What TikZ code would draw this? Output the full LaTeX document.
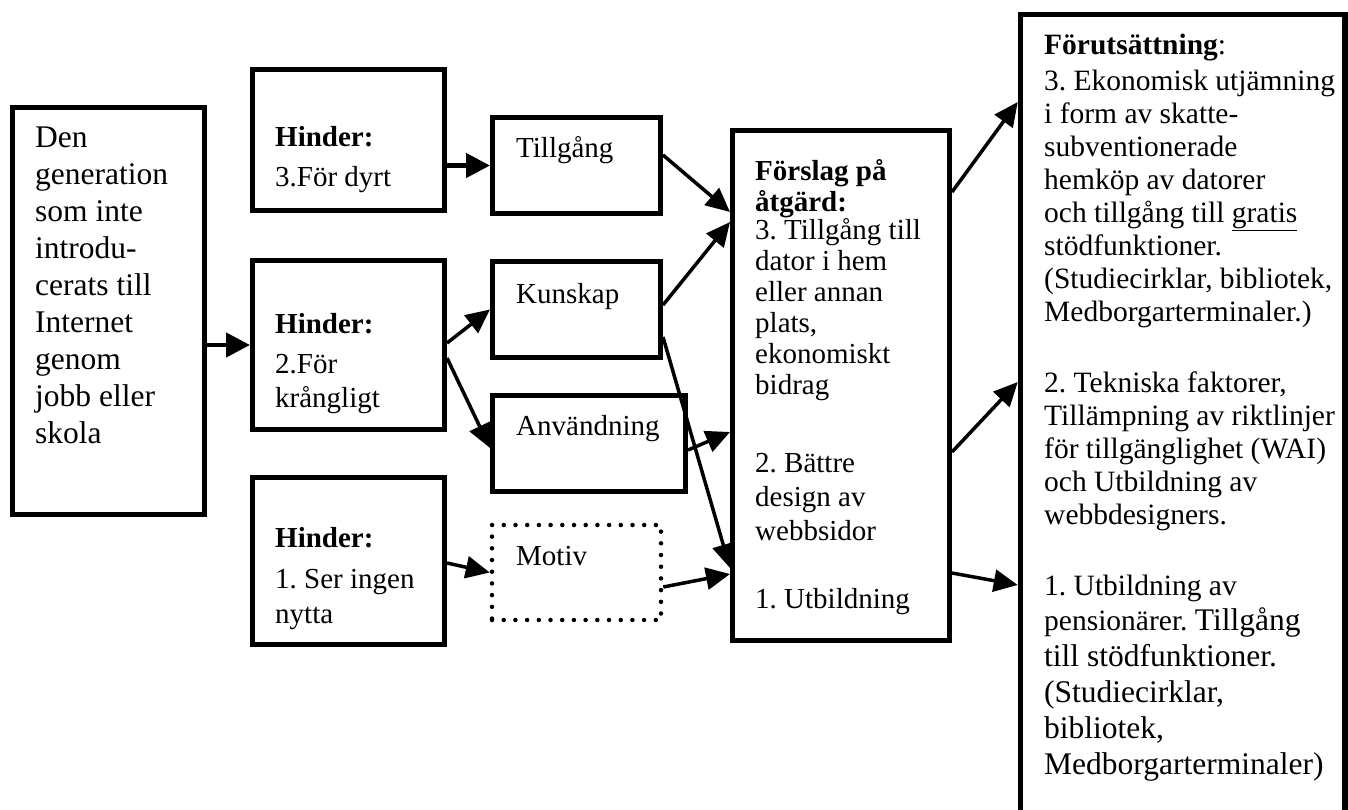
\documentclass[tikz,border=0pt]{standalone}
\usepackage{fontspec}
\setmainfont{Liberation Serif}
\usetikzlibrary{arrows.meta,calc}
\newcommand{\mytab}[1]{\begin{tabular}[t]{@{}l@{}}#1\end{tabular}}
\newcommand{\bigf}{\fontsize{31.5}{33}\selectfont}
\frenchspacing
\begin{document}
\begin{tikzpicture}[x=1pt,y=-1pt,
  box/.style={draw, line width=5pt, inner sep=0pt, rectangle},
  dotbox/.style={draw, line width=4.5pt, dash pattern=on 0pt off 11.7pt, line cap=round, inner sep=0pt, rectangle},
  txt/.style={inner sep=0pt, anchor=base west, font=\fontsize{29}{33}\selectfont\frenchspacing},
  arr/.style={line width=3.5pt, -{Triangle[length=24pt,width=22pt]}},
  arrH/.style={line width=4.5pt, -{Triangle[length=24pt,width=24pt]}}]
\useasboundingbox (0,0) rectangle (1348,809);
\clip (0,0) rectangle (1348,809);
% boxes
\node[box, minimum width=192pt, minimum height=407pt] (L) at (108.5,311) {};
\node[box, minimum width=192pt, minimum height=141pt] (H3) at (348.5,140) {};
\node[box, minimum width=192pt, minimum height=169pt] (H2) at (348.5,345) {};
\node[box, minimum width=192pt, minimum height=167pt] (H1) at (348.5,561) {};
\node[box, minimum width=168pt, minimum height=96pt] (Till) at (576.5,165.5) {};
\node[box, minimum width=168pt, minimum height=96pt] (Kun) at (576.5,309.5) {};
\node[box, minimum width=193pt, minimum height=96pt] (Anv) at (589,443.5) {};
\node[dotbox, minimum width=169pt, minimum height=95pt] (Mot) at (576.5,572.5) {};
\node[box, minimum width=217pt, minimum height=510pt] (F) at (841,385.5) {};
\node[box, line width=5.5pt, minimum width=324.5pt, minimum height=815.5pt] (R) at (1182.75,422.25) {};
% texts
\node[txt, font=\fontsize{31.5}{37}\selectfont\frenchspacing] (Lt) at (35,147) {\mytab{Den\\generation\\som inte\\introdu-\\cerats till\\Internet\\genom\\jobb eller\\skola}};
\node[txt] (H3t) at (275,146) {\mytab{\textbf{Hinder:}\\[7pt]3.För dyrt}};
\node[txt] (H2t) at (275,333) {\mytab{\textbf{Hinder:}\\[7pt]2.För\\[1pt]krångligt}};
\node[txt] (H1t) at (275,547) {\mytab{\textbf{Hinder:}\\[8pt]1. Ser ingen\\[2pt]nytta}};
\node[txt] (Tillt) at (516,157) {Tillgång};
\node[txt] (Kunt) at (516,303) {Kunskap};
\node[txt] (Anvt) at (516,435) {Användning};
\node[txt] (Mott) at (516,565) {Motiv};
\node[txt, font=\fontsize{29}{31}\selectfont\frenchspacing] (Ft) at (755,180) {\mytab{\textbf{Förslag på}\\
\textbf{åtgärd:}\\[-3pt]
3. Tillgång till\\
dator i hem\\
eller annan\\
plats,\\
ekonomiskt\\
bidrag\\[47pt]
2. Bättre\\[3pt]
design av\\[3pt]
webbsidor\\[37pt]
1. Utbildning}};
\node[txt, font=\fontsize{29.5}{33}\selectfont\frenchspacing] (Rt) at (1044,54) {\mytab{\textbf{Förutsättning}:\\[3pt]
3. Ekonomisk utjämning\\
i form av skatte-\\
subventionerade\\
hemköp av datorer\\
och tillgång till \underline{gratis}\\
stödfunktioner.\\
(Studiecirklar, bibliotek,\\
Medborgarterminaler.)\\[38pt]
2. Tekniska faktorer,\\
Tillämpning av riktlinjer\\
för tillgänglighet (WAI)\\
och Utbildning av\\
webbdesigners.\\[38pt]
1. Utbildning av\\[2pt]
pensionärer. {\bigf Tillgång}\\[3pt]
\bigf till stödfunktioner.\\[3pt]
\bigf (Studiecirklar,\\[3pt]
\bigf bibliotek,\\[3pt]
\bigf Medborgarterminaler)}};
% connectors
\draw[arrH] (L.east |- H2.west) -- (H2.west);
\draw[arrH] (H3.east |- Till.west) -- (Till.west);
\draw[arr] ([yshift=2pt]H2.east) -- (Kun.west);
\draw[arr] ([yshift=-13pt]H2.east) -- ([yshift=-4.5pt]Anv.west);
\draw[arr] ([yshift=-2pt]H1.east) -- (Mot.west);
\draw[arr] ([yshift=10.5pt]Till.east) -- ([yshift=173.5pt]F.west);
\draw[arr] ([yshift=4.5pt]Kun.east) -- ([yshift=163.5pt]F.west);
\draw[arr] ([yshift=-27.5pt]Kun.east) -- ([yshift=-182.5pt]F.west);
\draw[arr] ([yshift=-6.5pt]Anv.east) -- ([yshift=-46.5pt]F.west);
\draw[arr] ([yshift=-14.5pt]Mot.east) -- ([yshift=-188.5pt]F.west);
\draw[arr] ([yshift=193.5pt]F.east) -- ([yshift=320.25pt]R.west);
\draw[arr] ([yshift=-66.5pt]F.east) -- ([yshift=40.25pt]R.west);
\draw[arr] ([yshift=-187.5pt]F.east) -- ([yshift=-162.75pt]R.west);
\end{tikzpicture}
\end{document}
